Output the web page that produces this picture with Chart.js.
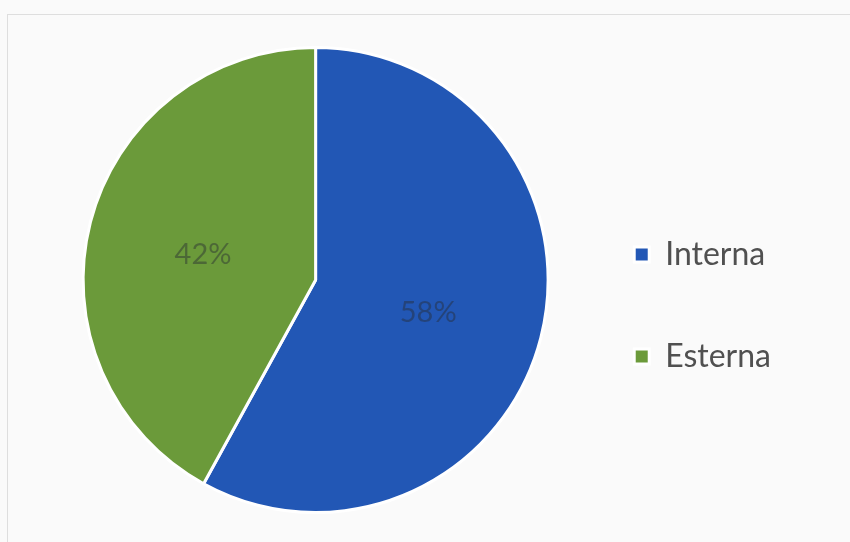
<!DOCTYPE html>
<html>
<head>
<meta charset="utf-8">
<script src="https://cdn.jsdelivr.net/npm/chart.js@4.4.1/dist/chart.umd.min.js"></script>
<style>
    html, body { margin: 0; padding: 0; background: #fafafa; }
    #wrap { position: relative; width: 850px; height: 542px; overflow: hidden; }
    #frame { position: absolute; left: 7px; top: 14px; width: 860px; height: 540px; border: 1px solid #dedede; box-sizing: border-box; }
    #origine { position: absolute; left: 0; top: 0; }
</style>
</head>
<body>
<div id="wrap">
    <div id="frame"></div>
    <canvas id="origine" width="850" height="542"></canvas>
</div>
<script>
const categorie = ['Interna', 'Esterna'];
const percentuali = [58, 42];
const colori = ['#2257b5', '#6b9a3a'];

// scrive la percentuale al centro di ogni fetta
const etichette = {
    id: 'etichette',
    afterDatasetsDraw(chart) {
        const ctx = chart.ctx;
        const meta = chart.getDatasetMeta(0);
        ctx.save();
        ctx.font = '29px Lato';
        ctx.fillStyle = 'rgba(40, 45, 50, 0.45)';
        ctx.textAlign = 'center';
        ctx.textBaseline = 'middle';
        meta.data.forEach(function (arc, i) {
            const pos = arc.tooltipPosition();
            ctx.fillText(chart.data.datasets[0].data[i] + '%', pos.x, pos.y + 4);
        });
        ctx.restore();
    }
};

var torta = new Chart(document.getElementById('origine'), {
    type: 'pie',
    data: {
        labels: categorie,
        datasets: [{
            data: percentuali,
            backgroundColor: colori,
            borderColor: '#ffffff',
            borderWidth: 3,
            hoverOffset: 0
        }]
    },
    options: {
        responsive: false,
        animation: false,
        layout: {
            padding: { top: 46, bottom: 28, left: 67, right: 69 }
        },
        plugins: {
            legend: {
                position: 'right',
                title: {
                    display: true,
                    text: ' ',
                    font: { size: 1 },
                    padding: { top: 50, bottom: 0 }
                },
                labels: {
                    boxWidth: 15,
                    boxHeight: 15,
                    padding: 70,
                    color: '#505050',
                    font: { family: 'Lato', size: 32 }
                }
            },
            tooltip: { enabled: false }
        }
    },
    plugins: [etichette]
});
</script>
</body>
</html>
